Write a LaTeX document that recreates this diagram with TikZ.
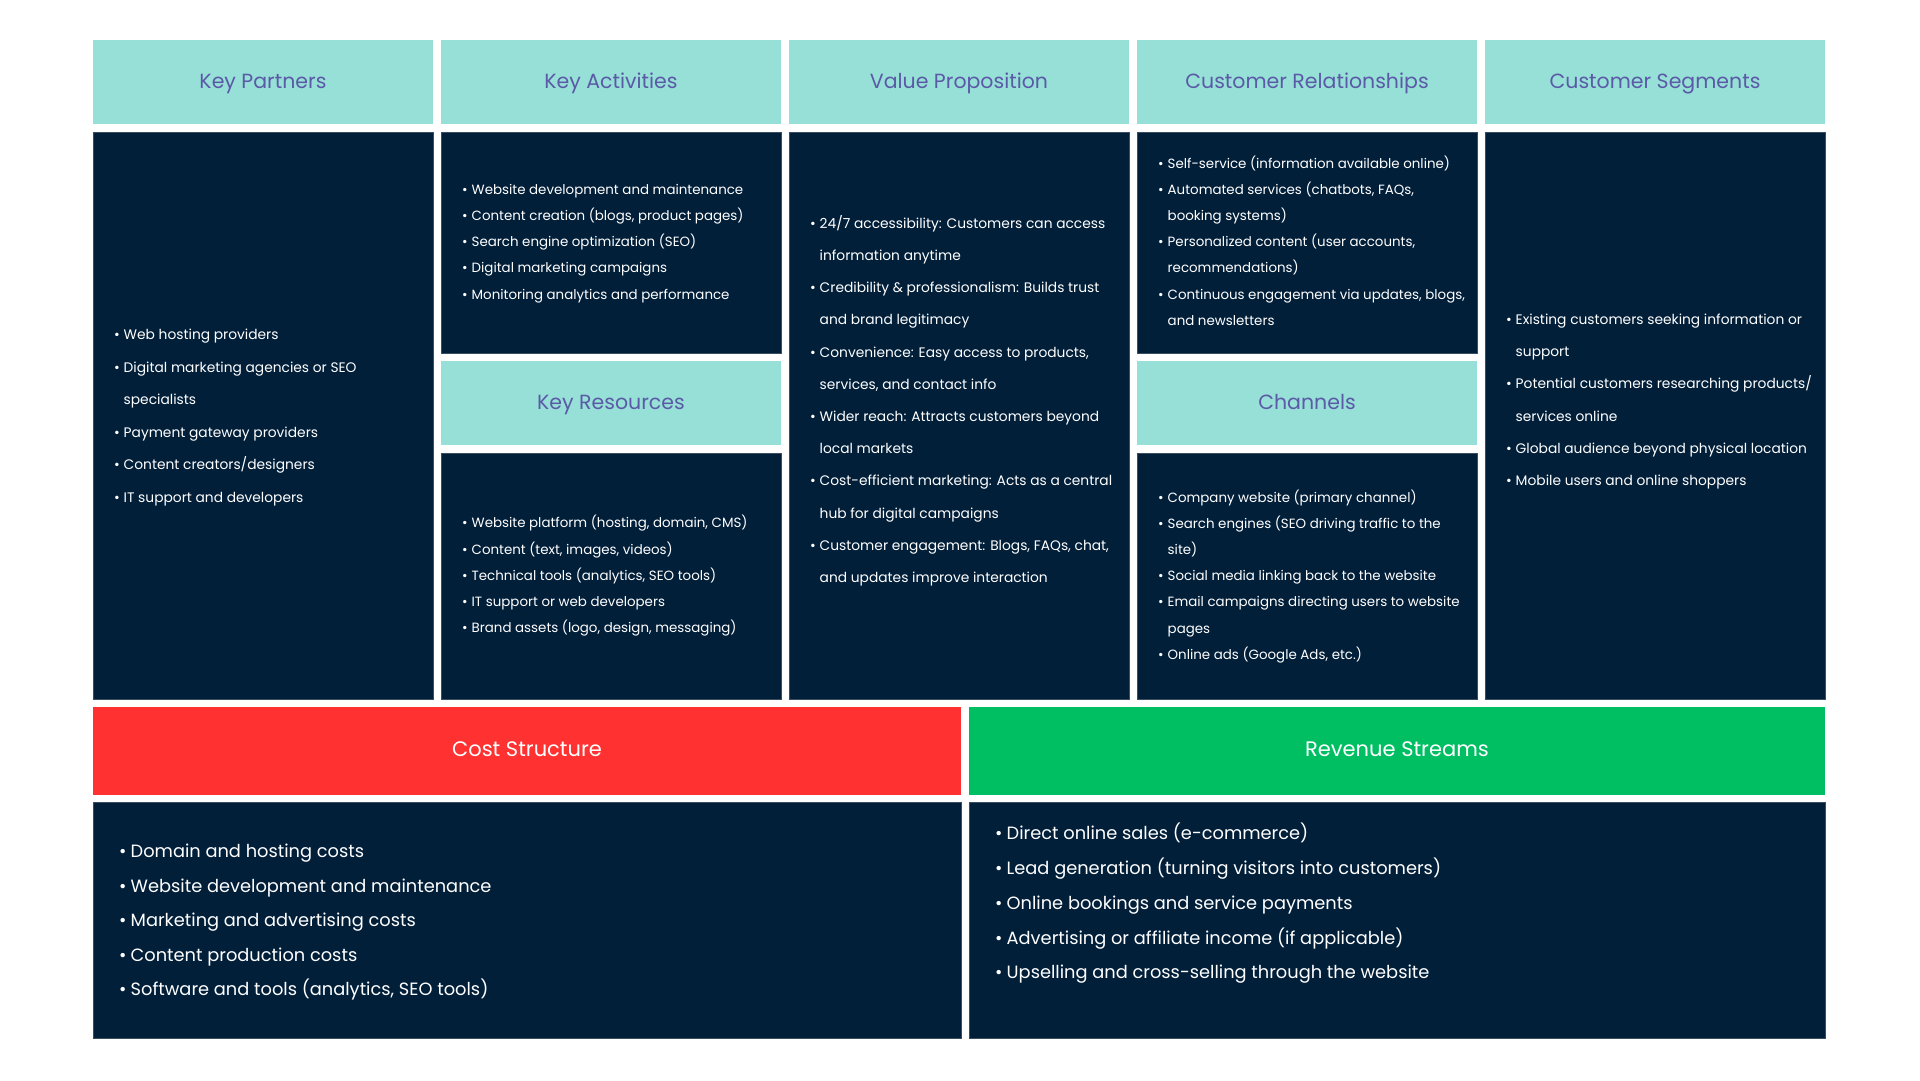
\documentclass[tikz,border=0pt]{standalone}
\usepackage{fontspec}
\setmainfont{Poppins}
\definecolor{navy}{HTML}{021F3A}
\definecolor{navyedge}{HTML}{3A4E63}
\definecolor{tealhdr}{HTML}{97E0D7}
\definecolor{hdrtxt}{HTML}{5A5AA6}
\definecolor{costred}{HTML}{FF3131}
\definecolor{revgreen}{HTML}{00BF63}
\newlength\bulw
\newcommand{\bi}{\strut\makebox[\bulw][l]{\textbullet}}
\newcommand{\ci}{\strut\hspace*{\bulw}}
\begin{document}
\begin{tikzpicture}[x=1pt,y=-1pt,
  hdr/.style={fill=tealhdr, text=hdrtxt, inner sep=0pt, minimum width=340pt, minimum height=84pt,
    text height=15pt, text depth=2.6pt, font=\fontsize{20.5}{24}\selectfont},
  bighdr/.style={inner sep=0pt, minimum height=88pt, text=white, text height=14.5pt, text depth=2.8pt,
    font=\fontsize{21}{24}\selectfont},
  body/.style={fill=navy, draw=navyedge, line width=0.8pt, inner sep=0pt, minimum width=340pt},
  lst/.style={anchor=west, align=left, inner sep=0pt, text=white},
  smalltight/.style={font=\fontsize{13.4}{#1}\selectfont\setlength\bulw{9.5pt}},
  smallwide/.style={font=\fontsize{13.8}{#1}\selectfont\setlength\bulw{9.5pt}},
  bigl/.style={font=\fontsize{17.8}{#1}\selectfont\setlength\bulw{11.5pt}}
]
\useasboundingbox (0,0) rectangle (1920,1080);
\fill[white] (0,0) rectangle (1920,1080);

% headers
\node[hdr] (kph) at (263,82) {Key Partners};
\node[hdr] (kah) at (611,82) {Key Activities};
\node[hdr] (vph) at (959,82) {Value Proposition};
\node[hdr] (crh) at (1307,82) {Customer Relationships};
\node[hdr] (csh) at (1655,82) {Customer Segments};
\node[hdr] (krh) at (611,403) {Key Resources};
\node[hdr] (chh) at (1307,403) {Channels};

% bodies
\node[body, minimum height=567pt] (kpb) at (263,415.5) {};
\node[body, minimum height=221pt] (kab) at (611,242.5) {};
\node[body, minimum height=567pt] (vpb) at (959,415.5) {};
\node[body, minimum height=221pt] (crb) at (1307,242.5) {};
\node[body, minimum height=567pt] (csb) at (1655,415.5) {};
\node[body, minimum height=246pt] (krb) at (611,576) {};
\node[body, minimum height=246pt] (chb) at (1307,576) {};

% bottom
\node[bighdr, fill=costred, minimum width=868pt] (costh) at (527,751) {Cost Structure};
\node[bighdr, fill=revgreen, minimum width=856pt] (revh) at (1397,751) {Revenue Streams};
\node[body, minimum width=868pt, minimum height=236pt] (costb) at (527,920) {};
\node[body, minimum width=856pt, minimum height=236pt] (revb) at (1397,920) {};

% lists
\node[lst, smallwide=32.6] (kpl) at (114,414.5) {%
\bi Web hosting providers\\
\bi Digital marketing agencies or SEO\\
\ci specialists\\
\bi Payment gateway providers\\
\bi Content creators/designers\\
\bi IT support and developers};

\node[lst, smalltight=26.2] (kal) at (462,241.5) {%
\bi Website development and maintenance\\
\bi Content creation (blogs, product pages)\\
\bi Search engine optimization (SEO)\\
\bi Digital marketing campaigns\\
\bi Monitoring analytics and performance};

\node[lst, smallwide=32.2] (vpl) at (810,399) {%
\bi 24/7 accessibility: Customers can access\\
\ci information anytime\\
\bi Credibility \& professionalism: Builds trust\\
\ci and brand legitimacy\\
\bi Convenience: Easy access to products,\\
\ci services, and contact info\\
\bi Wider reach: Attracts customers beyond\\
\ci local markets\\
\bi Cost-efficient marketing: Acts as a central\\
\ci hub for digital campaigns\\
\bi Customer engagement: Blogs, FAQs, chat,\\
\ci and updates improve interaction};

\node[lst, smalltight=26.2] (crl) at (1158,241.5) {%
\bi Self-service (information available online)\\
\bi Automated services (chatbots, FAQs,\\
\ci booking systems)\\
\bi Personalized content (user accounts,\\
\ci recommendations)\\
\bi Continuous engagement via updates, blogs,\\
\ci and newsletters};

\node[lst, smalltight=26.2] (krl) at (462,575) {%
\bi Website platform (hosting, domain, CMS)\\
\bi Content (text, images, videos)\\
\bi Technical tools (analytics, SEO tools)\\
\bi IT support or web developers\\
\bi Brand assets (logo, design, messaging)};

\node[lst, smalltight=26.2] (chl) at (1158,575.5) {%
\bi Company website (primary channel)\\
\bi Search engines (SEO driving traffic to the\\
\ci site)\\
\bi Social media linking back to the website\\
\bi Email campaigns directing users to website\\
\ci pages\\
\bi Online ads (Google Ads, etc.)};

\node[lst, smallwide=32.2] (csl) at (1506,398.5) {%
\bi Existing customers seeking information or\\
\ci support\\
\bi Potential customers researching products/\\
\ci services online\\
\bi Global audience beyond physical location\\
\bi Mobile users and online shoppers};

\node[lst, bigl=34.5] (costl) at (119,920) {%
\bi Domain and hosting costs\\
\bi Website development and maintenance\\
\bi Marketing and advertising costs\\
\bi Content production costs\\
\bi Software and tools (analytics, SEO tools)};

\node[lst, bigl=34.75] (revl) at (995,902.5) {%
\bi Direct online sales (e-commerce)\\
\bi Lead generation (turning visitors into customers)\\
\bi Online bookings and service payments\\
\bi Advertising or affiliate income (if applicable)\\
\bi Upselling and cross-selling through the website};
\end{tikzpicture}
\end{document}
